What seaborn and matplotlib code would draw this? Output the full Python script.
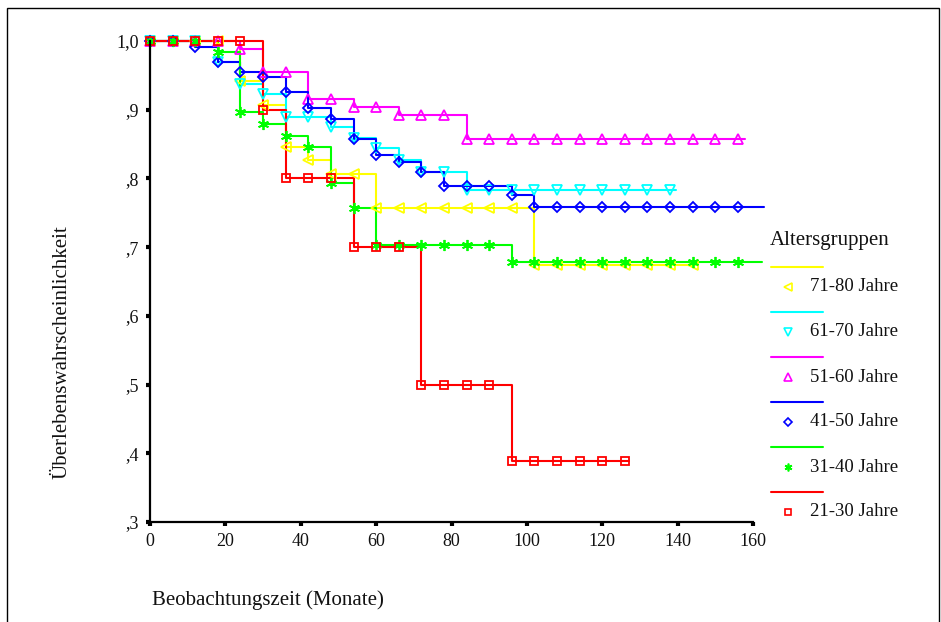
import numpy as np
import pandas as pd
import matplotlib
matplotlib.use('Agg')
import matplotlib.pyplot as plt
from matplotlib.lines import Line2D
from matplotlib.patches import Rectangle
import seaborn as sns

# ---------------- data ----------------
groups = ['71-80 Jahre', '61-70 Jahre', '51-60 Jahre', '41-50 Jahre', '31-40 Jahre', '21-30 Jahre']
mark_step = 6  # censor marks every 6 months, starting at 0

surv_71_80 = [1, 1, 1, 1, 0.942, 0.907, 0.846, 0.827, 0.806, 0.806, 0.757, 0.757, 0.757, 0.757,
              0.757, 0.757, 0.757, 0.674, 0.674, 0.674, 0.674, 0.674, 0.674, 0.674, 0.674]
surv_61_70 = [1, 1, 1, 0.970, 0.937, 0.923, 0.889, 0.889, 0.875, 0.859, 0.844, 0.827, 0.809, 0.809,
              0.783, 0.783, 0.783, 0.783, 0.783, 0.783, 0.783, 0.783, 0.783, 0.783]
surv_51_60 = [1, 1, 1, 1, 0.988, 0.955, 0.955, 0.916, 0.916, 0.904, 0.904, 0.892, 0.892, 0.892,
              0.857, 0.857, 0.857, 0.857, 0.857, 0.857, 0.857, 0.857, 0.857, 0.857, 0.857, 0.857, 0.857]
surv_41_50 = [1, 1, 0.991, 0.970, 0.955, 0.948, 0.926, 0.902, 0.887, 0.857, 0.834, 0.824, 0.809, 0.789,
              0.789, 0.789, 0.776, 0.758, 0.758, 0.758, 0.758, 0.758, 0.758, 0.758, 0.758, 0.758, 0.758]
surv_31_40 = [1, 1, 1, 0.984, 0.897, 0.879, 0.862, 0.846, 0.793, 0.757, 0.703, 0.703, 0.703, 0.703,
              0.703, 0.703, 0.679, 0.679, 0.679, 0.679, 0.679, 0.679, 0.679, 0.679, 0.679, 0.679, 0.679]
surv_21_30 = [1, 1, 1, 1, 1, 0.9, 0.8, 0.8, 0.8, 0.7, 0.7, 0.7, 0.5, 0.5, 0.5, 0.5,
              0.389, 0.389, 0.389, 0.389, 0.389, 0.389]
end_months = [145, 139.5, 158, 163, 162.5, 127]

x_ticks = [0, 20, 40, 60, 80, 100, 120, 140, 160]
y_ticks = [0.3, 0.4, 0.5, 0.6, 0.7, 0.8, 0.9, 1.0]
y_tick_labels = [',3', ',4', ',5', ',6', ',7', ',8', ',9', '1,0']

series = [surv_71_80, surv_61_70, surv_51_60, surv_41_50, surv_31_40, surv_21_30]

# long tables
mark_rows, step_rows = [], []
for g, vals, end in zip(groups, series, end_months):
    for i, v in enumerate(vals):
        mark_rows.append((g, i * mark_step, v))
        step_rows.append((g, i * mark_step, v))
    step_rows.append((g, end, vals[-1]))
marks = pd.DataFrame(mark_rows, columns=['gruppe', 'monat', 'surv'])
steps = pd.DataFrame(step_rows, columns=['gruppe', 'monat', 'surv'])

# ---------------- style ----------------
sns.set_style('white')
plt.rcParams['font.family'] = ['Liberation Serif', 'DejaVu Serif']

colors = ['#FFFF00', '#00FFFF', '#FF00FF', '#0000FF', '#00FF00', '#FF0000']
mstyles = ['<', 'v', '^', 'D', (6, 2, 0), 's']
msizes = [7.5, 7.5, 7.5, 5.5, 8, 5.5]

W, H = 941, 622
fig = plt.figure(figsize=(W / 100, H / 100), dpi=100)
ax = fig.add_axes([150 / W, 1 - 522 / H, (753 - 150) / W, (522 - 41) / H])

for g, col in zip(groups, colors):
    sns.lineplot(data=steps[steps.gruppe == g], x='monat', y='surv', color=col,
                 drawstyle='steps-post', lw=1.5, estimator=None, ax=ax,
                 clip_on=False, legend=False)
for g, col, mk, ms in zip(groups, colors, mstyles, msizes):
    sns.lineplot(data=marks[marks.gruppe == g], x='monat', y='surv', color=col,
                 linestyle='', marker=mk, ms=ms, mfc='none', mec=col, mew=1.3,
                 estimator=None, ax=ax, clip_on=False, legend=False)

ax.set_xlim(0, 160)
ax.set_ylim(0.3, 1.0)
ax.set_xticks(x_ticks)
ax.set_xticklabels([str(t) for t in x_ticks])
ax.set_yticks(y_ticks)
ax.set_yticklabels(y_tick_labels)
ax.tick_params(axis='both', direction='out', length=3, width=3, color='black',
               labelsize=13, pad=5, labelcolor='#111111')
ax.tick_params(left=True, bottom=True)
for s in ['top', 'right']:
    ax.spines[s].set_visible(False)
for s in ['left', 'bottom']:
    ax.spines[s].set_color('black')
    ax.spines[s].set_linewidth(1.6)
ax.set_xlabel('')
ax.set_ylabel('')
ax.set_facecolor('white')

# axis titles
fig.text(152 / W, 1 - 600 / H, 'Beobachtungszeit (Monate)', fontsize=15,
         ha='left', va='center', color='#111111')
fig.text(62 / W, 1 - 352 / H, 'Überlebenswahrscheinlichkeit', fontsize=15,
         rotation=90, ha='center', va='center', color='#111111')

# legend (drawn manually: line row above, marker + label below)
fig.text(770 / W, 1 - 241 / H, 'Altersgruppen', fontsize=15, ha='left',
         va='center', color='#111111')
line_ys = [267, 312, 357, 402, 447, 492]
for g, col, mk, ms, ly in zip(groups, colors, mstyles, msizes, line_ys):
    fig.add_artist(Line2D([771 / W, 823 / W], [1 - ly / H, 1 - ly / H],
                          transform=fig.transFigure, color=col, lw=1.5))
    fig.add_artist(Line2D([788 / W], [1 - (ly + 20) / H], transform=fig.transFigure,
                          linestyle='', marker=mk, ms=ms * 0.7, mfc='none',
                          mec=col, mew=1.2))
    fig.text(810 / W, 1 - (ly + 20) / H, g, fontsize=13.5, ha='left', va='center',
             color='#111111')

# outer frame
fig.add_artist(Rectangle((7 / W, -0.05), (939 - 7) / W, 1.05 - 8 / H,
                         transform=fig.transFigure, fill=False, edgecolor='black',
                         lw=1.0))

fig.savefig('out.png', dpi=100, facecolor='white')
